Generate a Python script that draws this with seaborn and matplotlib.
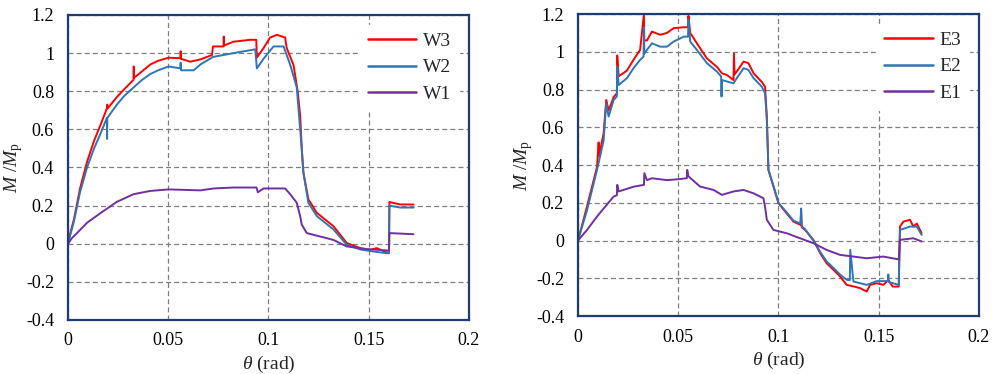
import numpy as np
import pandas as pd
import matplotlib
matplotlib.use("Agg")
import matplotlib.pyplot as plt
import seaborn as sns

# ---- data (theta in rad, M/Mp) ----
w3_theta = [0, 0.001, 0.003, 0.006, 0.0095, 0.013, 0.0161, 0.0194, 0.0196, 0.0198, 0.0244, 0.028,
            0.0327, 0.0328, 0.0329, 0.037, 0.041, 0.045, 0.0502, 0.056, 0.0562, 0.0564, 0.061, 0.066,
            0.0718, 0.0723, 0.0776, 0.0777, 0.0778, 0.0826, 0.0909, 0.0939, 0.0942, 0.0975, 0.1008,
            0.1042, 0.1083, 0.1091, 0.1125, 0.1146, 0.1158, 0.1166, 0.1174, 0.1199, 0.1241, 0.1324,
            0.139, 0.1457, 0.1507, 0.154, 0.159, 0.1601, 0.1603, 0.1656, 0.1723]
w3_m = [0, 0.05, 0.13, 0.29, 0.43, 0.54, 0.62, 0.71, 0.73, 0.71, 0.77, 0.81,
        0.86, 0.93, 0.87, 0.905, 0.94, 0.96, 0.976, 0.973, 1.01, 0.97, 0.955, 0.967,
        0.99, 1.035, 1.035, 1.087, 1.04, 1.06, 1.07, 1.07, 0.976, 1.026, 1.082,
        1.096, 1.082, 1.026, 0.937, 0.797, 0.673, 0.497, 0.374, 0.233, 0.162, 0.092,
        0.004, -0.023, -0.032, -0.023, -0.046, -0.046, 0.219, 0.206, 0.206]

w2_theta = [0, 0.001, 0.003, 0.006, 0.0095, 0.013, 0.0161, 0.0194, 0.0195, 0.0196, 0.0244, 0.028,
            0.0327, 0.037, 0.041, 0.045, 0.0502, 0.056, 0.0562, 0.0564, 0.0627, 0.066, 0.0723,
            0.0826, 0.0934, 0.0942, 0.0975, 0.1025, 0.1075, 0.1108, 0.1141, 0.1166, 0.1174, 0.1199,
            0.1241, 0.1324, 0.139, 0.1457, 0.152, 0.159, 0.1601, 0.1603, 0.1656, 0.1723]
w2_m = [0, 0.04, 0.12, 0.27, 0.4, 0.5, 0.575, 0.66, 0.55, 0.66, 0.73, 0.775,
        0.82, 0.86, 0.89, 0.91, 0.93, 0.92, 0.95, 0.91, 0.91, 0.94, 0.98,
        1.0, 1.02, 0.92, 0.97, 1.035, 1.035, 0.94, 0.82, 0.497, 0.374, 0.215,
        0.145, 0.075, -0.005, -0.03, -0.04, -0.05, -0.05, 0.2, 0.19, 0.19]

w1_theta = [0, 0.002, 0.0045, 0.0095, 0.0161, 0.0244, 0.0327, 0.041, 0.0502, 0.066, 0.0727, 0.0826,
            0.094, 0.0947, 0.0975, 0.1083, 0.1108, 0.1141, 0.1158, 0.1166, 0.1191, 0.1324,
            0.139, 0.149, 0.159, 0.1601, 0.1603, 0.1723]
w1_m = [0, 0.03, 0.056, 0.11, 0.16, 0.22, 0.26, 0.277, 0.285, 0.28, 0.29, 0.295,
        0.295, 0.27, 0.29, 0.29, 0.26, 0.215, 0.145, 0.1, 0.056, 0.02,
        -0.014, -0.028, -0.035, -0.035, 0.056, 0.05]

e3_theta = [0, 0.0045, 0.0095, 0.0103, 0.0106, 0.0128, 0.0141, 0.0153, 0.0178, 0.0194, 0.0196, 0.0203,
            0.0244, 0.0277, 0.031, 0.0329, 0.0331, 0.0344, 0.0369, 0.041, 0.0444, 0.0477, 0.0527,
            0.0549, 0.0551, 0.056, 0.0593, 0.0643, 0.0693, 0.0718, 0.0743, 0.0776, 0.0778, 0.0781,
            0.0792, 0.0826, 0.085, 0.0876, 0.0917, 0.0933, 0.0942, 0.095, 0.0975, 0.1, 0.104, 0.1075,
            0.111, 0.1113, 0.1116, 0.1133, 0.1174, 0.1208, 0.124, 0.1274, 0.1307, 0.134, 0.1374,
            0.1407, 0.144, 0.1457, 0.149, 0.1523, 0.1548, 0.157, 0.16, 0.1606, 0.1623, 0.1656,
            0.1673, 0.169, 0.1714]
e3_m = [0, 0.18, 0.39, 0.52, 0.45, 0.57, 0.745, 0.69, 0.76, 0.78, 0.98, 0.87,
        0.9, 0.957, 1.01, 1.2, 1.06, 1.06, 1.107, 1.09, 1.1, 1.125, 1.13,
        1.13, 1.19, 1.1, 1.045, 0.965, 0.92, 0.886, 0.877, 0.85, 0.99, 0.88,
        0.895, 0.948, 0.94, 0.886, 0.84, 0.815, 0.657, 0.374, 0.286, 0.198, 0.145, 0.1,
        0.083, 0.16, 0.07, 0.056, 0.0035, -0.067, -0.12, -0.155, -0.19, -0.235, -0.243,
        -0.252, -0.27, -0.235, -0.226, -0.235, -0.21, -0.244, -0.244, 0.074, 0.1, 0.11,
        0.074, 0.09, 0.04]

e2_theta = [0, 0.0045, 0.0095, 0.0128, 0.0141, 0.0153, 0.0178, 0.0194, 0.0196, 0.0203, 0.0244,
            0.0277, 0.031, 0.0327, 0.0329, 0.0331, 0.0344, 0.0369, 0.041, 0.0444, 0.0477, 0.0527,
            0.0549, 0.0551, 0.056, 0.0593, 0.0643, 0.0693, 0.0714, 0.0716, 0.0718, 0.0776, 0.0792,
            0.0826, 0.085, 0.0876, 0.0917, 0.0933, 0.0942, 0.095, 0.0975, 0.1, 0.104, 0.1075,
            0.111, 0.1113, 0.1116, 0.1133, 0.1174, 0.1208, 0.124, 0.1274, 0.1307, 0.134, 0.1356,
            0.1358, 0.1374, 0.144, 0.149, 0.1546, 0.1548, 0.155, 0.157, 0.16, 0.1606, 0.1656,
            0.169, 0.1714]
e2_m = [0, 0.16, 0.374, 0.53, 0.727, 0.657, 0.745, 0.763, 0.92, 0.824, 0.86,
        0.913, 0.957, 0.974, 1.13, 0.99, 1.01, 1.045, 1.027, 1.027, 1.054, 1.08,
        1.08, 1.17, 1.054, 1.01, 0.94, 0.895, 0.87, 0.763, 0.85, 0.833, 0.86,
        0.913, 0.904, 0.86, 0.815, 0.78, 0.64, 0.374, 0.29, 0.2, 0.15, 0.105,
        0.09, 0.17, 0.075, 0.06, 0.0, -0.06, -0.11, -0.145, -0.18, -0.208, -0.21,
        -0.05, -0.217, -0.235, -0.215, -0.215, -0.18, -0.22, -0.226, -0.235, 0.056, 0.074,
        0.074, 0.03]

e1_theta = [0, 0.0045, 0.0095, 0.0144, 0.0178, 0.0194, 0.0196, 0.0203, 0.0277, 0.0329, 0.0331,
            0.0344, 0.0369, 0.0444, 0.0502, 0.0543, 0.0545, 0.0551, 0.0609, 0.0676, 0.0718, 0.0776,
            0.0826, 0.0876, 0.0925, 0.0933, 0.0942, 0.0975, 0.104, 0.1108, 0.1174, 0.1241,
            0.1307, 0.1374, 0.144, 0.1523, 0.16, 0.1606, 0.1673, 0.1714]
e1_m = [0, 0.056, 0.127, 0.19, 0.233, 0.24, 0.295, 0.26, 0.285, 0.295, 0.357,
        0.32, 0.33, 0.32, 0.325, 0.33, 0.374, 0.34, 0.286, 0.268, 0.242, 0.26,
        0.268, 0.25, 0.224, 0.18, 0.11, 0.056, 0.039, 0.012, -0.014, -0.05,
        -0.076, -0.085, -0.094, -0.085, -0.1, 0.0035, 0.012, -0.005]

x_ticks = [0, 0.05, 0.1, 0.15, 0.2]
x_labels = ["0", "0.05", "0.1", "0.15", "0.2"]
y_ticks = [-0.4, -0.2, 0, 0.2, 0.4, 0.6, 0.8, 1, 1.2]
y_labels = ["-0.4", "-0.2", "0", "0.2", "0.4", "0.6", "0.8", "1", "1.2"]

colors = {"3": "#FF0000", "2": "#2E75B6", "1": "#7030A0"}


def long_frame(prefix, series):
    rows = []
    for name, th, m in series:
        rows.append(pd.DataFrame({"theta": th, "M": m, "specimen": prefix + name}))
    return pd.concat(rows, ignore_index=True)


left_df = long_frame("W", [("3", w3_theta, w3_m), ("2", w2_theta, w2_m), ("1", w1_theta, w1_m)])
right_df = long_frame("E", [("3", e3_theta, e3_m), ("2", e2_theta, e2_m), ("1", e1_theta, e1_m)])

sns.set_theme(style="white")
plt.rcParams["font.family"] = ["Liberation Serif", "DejaVu Serif"]
plt.rcParams["mathtext.fontset"] = "custom"
plt.rcParams["mathtext.rm"] = "Liberation Serif"
plt.rcParams["mathtext.it"] = "Liberation Serif:italic"

fig = plt.figure(figsize=(9.97, 3.74), dpi=100)
ax_l = fig.add_axes([0.0682, 0.1444, 0.4022, 0.8155])
ax_r = fig.add_axes([0.5797, 0.155, 0.4022, 0.8075])

frame_col = "#1F3B73"

for ax, df, prefix in [(ax_l, left_df, "W"), (ax_r, right_df, "E")]:
    order = [prefix + "3", prefix + "2", prefix + "1"]
    pal = {prefix + k: v for k, v in colors.items()}
    sns.lineplot(data=df, x="theta", y="M", hue="specimen", hue_order=order, palette=pal,
                 sort=False, estimator=None, linewidth=1.4, ax=ax)
    ax.set_xlim(0, 0.2)
    ax.set_ylim(-0.4, 1.2)
    ax.set_xticks(x_ticks)
    ax.set_xticklabels(x_labels)
    ax.set_yticks(y_ticks)
    ax.set_yticklabels(y_labels)
    ax.tick_params(axis="x", labelsize=13, colors="black", length=0, pad=9)
    ax.tick_params(axis="y", labelsize=13, labelcolor="black", length=3, color="#888888",
                   direction="out", pad=7)
    ax.grid(True, linestyle=(0, (4, 2.5)), color="#7f7f7f", linewidth=0.9)
    for sp in ax.spines.values():
        sp.set_color(frame_col)
        sp.set_linewidth(1.6)
    ax.set_xlabel(r"$\theta$ (rad)", fontsize=14, labelpad=3)
    ax.set_ylabel(r"$M\ /M_{\rm p}$", fontsize=14, labelpad=1)
    leg = ax.legend(loc="upper right", frameon=True, fontsize=14, handlelength=2.5,
                    handletextpad=0.35, labelspacing=0.45, borderaxespad=0.5)
    leg.get_frame().set_edgecolor("white")
    leg.get_frame().set_facecolor("white")
    leg.get_frame().set_alpha(1)
    for line in leg.get_lines():
        line.set_linewidth(1.8)

fig.savefig("out.png", dpi=100)
